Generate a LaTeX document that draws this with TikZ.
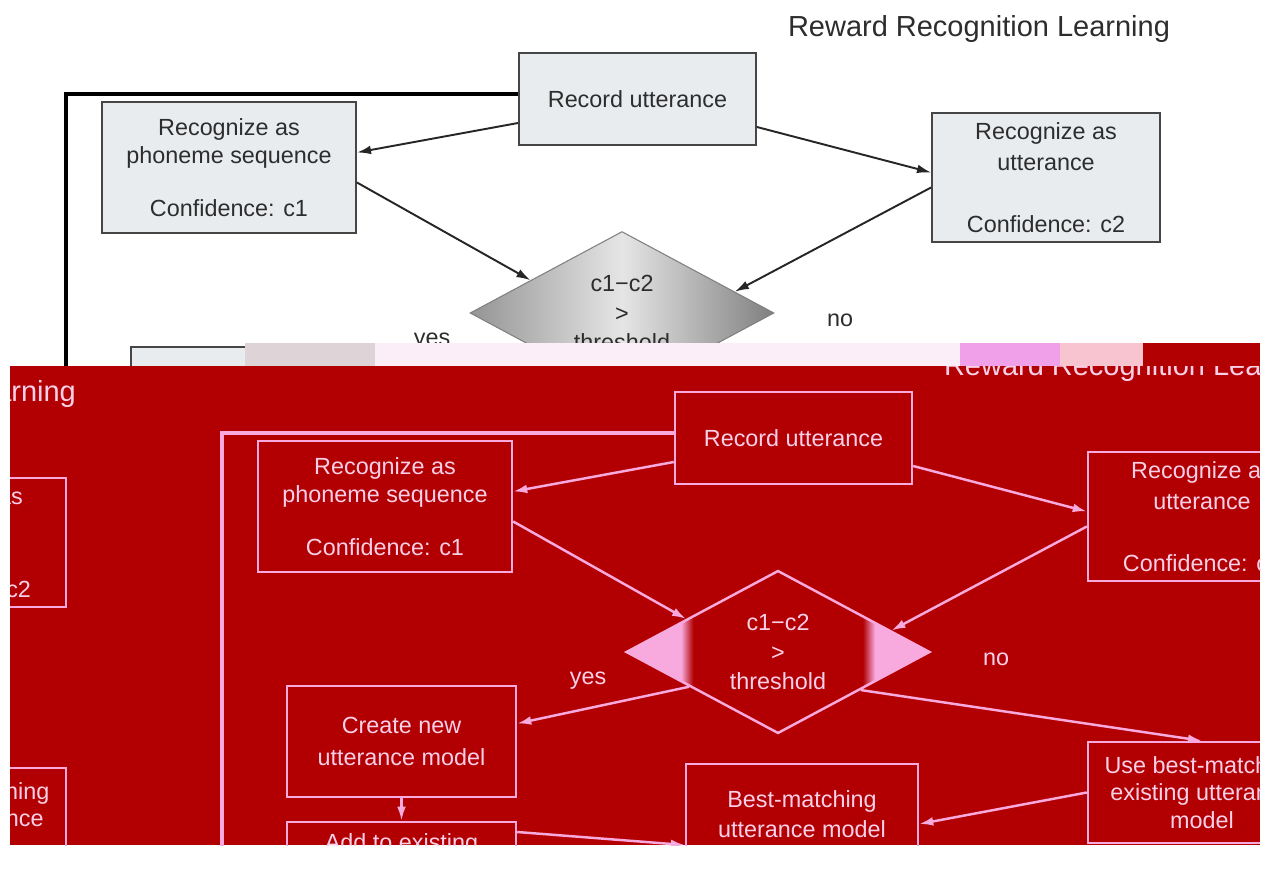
\documentclass[tikz,border=0pt]{standalone}
\usepackage{fontspec}
\setmainfont{Liberation Sans}
\usetikzlibrary{shapes.geometric,arrows.meta,calc}

\definecolor{boxgray}{RGB}{233,236,239}
\definecolor{boxline}{RGB}{70,70,70}
\definecolor{inkblack}{RGB}{45,45,45}
\definecolor{panelred}{RGB}{178,0,2}
\definecolor{pinkline}{RGB}{248,170,222}
\definecolor{pinktext}{RGB}{250,208,232}
\definecolor{glitchgray}{RGB}{222,212,216}
\definecolor{glitchpale}{RGB}{252,238,248}
\definecolor{glitchmag}{RGB}{240,160,232}
\definecolor{glitchrose}{RGB}{248,196,208}

\pgfdeclarehorizontalshading{pinktips}{100bp}{color(0bp)=(pinkline); color(34bp)=(pinkline); color(36bp)=(panelred); color(64bp)=(panelred); color(66bp)=(pinkline); color(100bp)=(pinkline)}

\tikzset{
  boxtext/.style={font=\fontsize{13.3}{15.8}\selectfont, align=center},
  diamtext/.style={boxtext, inner sep=0pt, shape aspect=2, minimum width=6.08cm, minimum height=3.26cm},
  topbox/.style={rectangle, draw=boxline, fill=boxgray, line width=1.1pt, text=inkblack, boxtext},
  redbox/.style={rectangle, draw=pinkline, line width=1.4pt, text=pinktext, boxtext},
  topdiam/.style={diamond, draw=black!50, line width=0.6pt, left color=black!42, right color=black!50, middle color=black!10, text=inkblack, diamtext},
  reddiam/.style={diamond, draw=pinkline, line width=1.4pt, shade, shading=pinktips, text=pinktext, diamtext},
  toparrow/.style={color=black!85, line width=1.1pt, -{Latex[length=8pt,width=5pt]}},
  redarrow/.style={color=pinkline, line width=1.4pt, -{Latex[length=8pt,width=5pt]}},
  toploop/.style={draw=black, line width=2.2pt},
  redloop/.style={draw=pinkline, line width=1.8pt},
  toplabel/.style={text=inkblack, font=\fontsize{13.3}{15.8}\selectfont},
  redlabel/.style={text=pinktext, font=\fontsize{13.3}{15.8}\selectfont},
  toptitle/.style={text=inkblack, font=\fontsize{16.5}{19}\selectfont},
  redtitle/.style={text=pinktext, font=\fontsize{16.5}{19}\selectfont},
  topflow/.style={rrlbox/.style=topbox, rrldiam/.style=topdiam, rrlarrow/.style=toparrow,
    rrlloop/.style=toploop, rrllabel/.style=toplabel, rrltitle/.style=toptitle},
  redflow/.style={rrlbox/.style=redbox, rrldiam/.style=reddiam, rrlarrow/.style=redarrow,
    rrlloop/.style=redloop, rrllabel/.style=redlabel, rrltitle/.style=redtitle},
}

% the flow chart, drawn once per copy
\newcommand{\rrlflow}{%
\node[rrltitle] at (979, 29) (title) {Reward Recognition Learning};
\node[rrlbox, minimum width=4.74cm, minimum height=1.84cm] at (637.5, 99) (rec) {Record utterance};
\node[rrlbox, minimum width=5.08cm, minimum height=2.62cm] at (229, 167.5) (phon) {Recognize as\\phoneme sequence\\[0.5cm]Confidence: c1};
\node[rrlbox, minimum width=4.56cm, minimum height=2.58cm] at (1046, 177.5) (utt) {Recognize as\\[0.08cm]utterance\\[0.68cm]Confidence: c2};
\node[rrldiam] at (622, 313) (diam) {c1−c2\\[0.04cm]>\\[0.04cm]threshold};
\node[rrlbox, minimum width=4.58cm, minimum height=2.22cm] at (245.5, 402.5) (create) {Create new\\[0.08cm]utterance model};
\node[rrlbox, minimum width=4.58cm, minimum height=0.88cm] at (245.5, 505) (add) {Add to existing};
\node[rrlbox, minimum width=4.64cm, minimum height=2cm] at (646, 475) (best) {Best-matching\\[0.04cm]utterance model};
\node[rrlbox, minimum width=4.56cm, minimum height=2.02cm] at (1046, 453.5) (use) {Use best-matching\\existing utterance\\model};
\node[rrllabel] at (432, 342) (yes) {yes};
\node[rrllabel] at (840, 320) (no) {no};
\coordinate (loopend) at (66, 560);
\draw[rrlloop] ($(rec.west)+(0,-5)$) -| (loopend);
\path[rrlarrow] ($(rec.west)+(0,24)$) edge ($(phon.east)+(0,-15)$)
	($(rec.east)+(0,28)$) edge ($(utt.west)+(0,-5)$)
	($(phon.east)+(0,15)$) edge ($(diam.west)!0.4!(diam.north)$)
	($(utt.west)+(0,10)$) edge ($(diam.north)!0.74!(diam.east)$)
	($(diam.west)!0.42!(diam.south)$) edge ($(create.east)+(0,-18)$)
	($(diam.east)!0.46!(diam.south)$) edge (use.north)
	(create.south) edge (add.north)
	($(add.east)+(0,-12)$) edge ($(best.west)+(0,31)$)
	(use.west) edge ($(best.east)+(0,10)$);
}

\begin{document}
\begin{tikzpicture}[x=0.02cm, y=-0.02cm]
\useasboundingbox (0,0) rectangle (1270,895);
% original chart, upper part
\begin{scope}
\clip (0,0) rectangle (1270,366);
\begin{scope}[topflow, name prefix=top-]
\rrlflow
\end{scope}
\end{scope}
% broken strip
\fill[glitchgray] (245,343) rectangle (375,366);
\fill[glitchpale] (375,343) rectangle (960,366);
\fill[glitchmag] (960,343) rectangle (1060,366);
\fill[glitchrose] (1060,343) rectangle (1143,366);
\fill[panelred] (1143,343) rectangle (1260,366);
% red panel with shifted copies
\fill[panelred] (10,366) rectangle (1260,845);
\begin{scope}
\clip (10,366) rectangle (1260,845);
\begin{scope}[redflow, shift={(156,339)}, name prefix=red-]
\rrlflow
\end{scope}
\begin{scope}[redflow, shift={(-1094,365)}, name prefix=tile-]
\rrlflow
\end{scope}
\end{scope}
\end{tikzpicture}
\end{document}
